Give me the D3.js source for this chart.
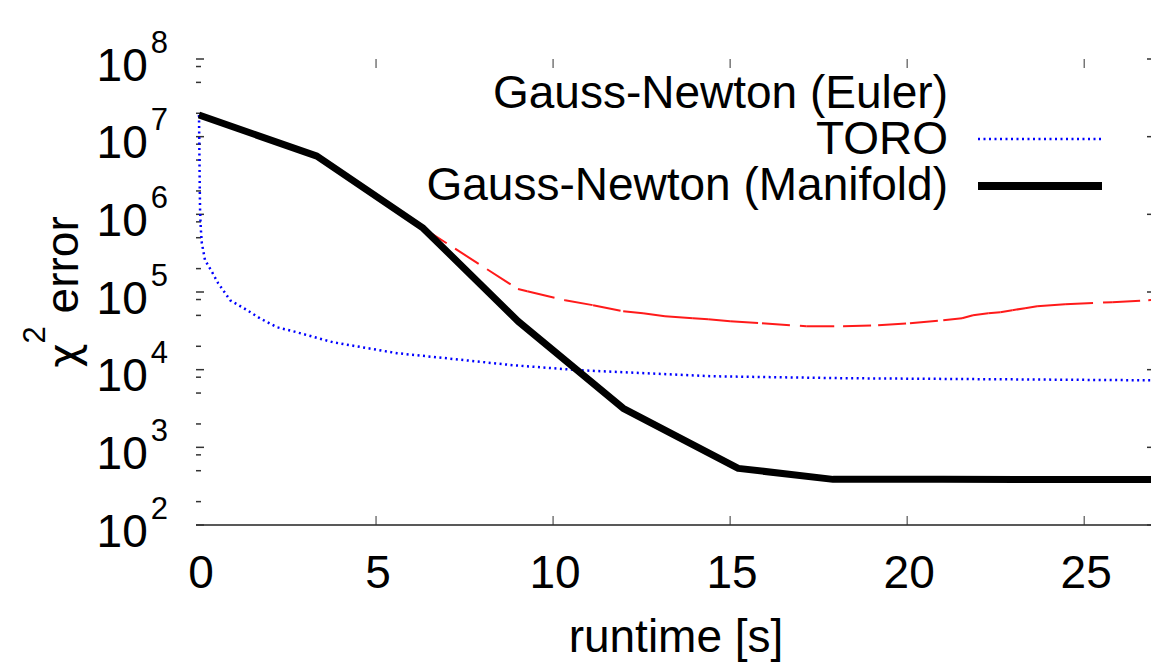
<!DOCTYPE html>
<html>
<head>
<meta charset="utf-8">
<script src="https://cdn.jsdelivr.net/npm/d3@7"></script>
<style>
  body { margin: 0; background: #fff; }
  svg { display: block; }
  text { font-family: "Liberation Sans", Arial, sans-serif; fill: #000; }
</style>
</head>
<body>
<svg></svg>
<script>
let width = 1151;
let height = 667;

// runtime [s] and chi^2 error
let manifoldTime = [0, 3.33, 6.33, 9.01, 11.98, 15.23, 17.91, 21, 24, 27];
let manifoldErr = [1.9e7, 5.62e6, 6.64e5, 4.21e4, 3.18e3, 536, 387, 387, 386, 386];

let eulerTime = [6.33, 9.01, 9.27, 10.34, 11.13, 11.98, 12.54, 13.16, 13.95, 14.38, 15.0, 15.9,
  17.15, 18.19, 19.18, 20.08, 21.02, 21.55, 21.86, 22.29, 22.63, 22.97, 23.33, 23.67, 24.46,
  25.79, 26.81, 27];
let eulerErr = [6.64e5, 1.09e5, 1.02e5, 7.84e4, 6.76e4, 5.66e4, 5.33e4, 4.88e4, 4.59e4, 4.46e4,
  4.21e4, 3.96e4, 3.62e4, 3.62e4, 3.73e4, 3.96e4, 4.33e4, 4.59e4, 5.02e4, 5.33e4, 5.5e4, 5.83e4,
  6.18e4, 6.56e4, 6.96e4, 7.39e4, 7.84e4, 7.9e4];

let toroTime = [0, 0.02, 0.03, 0.05, 0.08, 0.17, 0.37, 0.54, 0.88, 1.36, 1.72, 2.2, 2.66, 3.79,
  5.59, 7.0, 8.87, 10.76, 12.65, 14.51, 16.39, 18.37, 22.59, 27];
let toroErr = [1.9e7, 2.52e6, 1.13e6, 6.64e5, 4.26e5, 2.57e5, 1.8e5, 1.3e5, 7.84e4, 5.83e4,
  4.59e4, 3.52e4, 3.12e4, 2.25e4, 1.63e4, 1.4e4, 1.14e4, 9.83e3, 8.99e3, 8.22e3, 7.98e3,
  7.75e3, 7.52e3, 7.29e3];

let xTicks = [0, 5, 10, 15, 20, 25];
let yExponents = [2, 3, 4, 5, 6, 7, 8];
let minorFactors = [2, 5, 8];

let legendLabels = ["Gauss-Newton (Euler)", "TORO", "Gauss-Newton (Manifold)"];

let zip = (xs, ys) => xs.map((x, i) => ({ t: x, v: ys[i] }));
let manifold = zip(manifoldTime, manifoldErr);
let euler = zip(eulerTime, eulerErr);
let toro = zip(toroTime, toroErr);

let fontSize = 46;

let svg = d3.select("svg").attr("width", width).attr("height", height);

let xScale = d3.scaleLinear().domain([0, 27]).range([199, 1155]);
let yScale = d3.scaleLog().domain([1e2, 1e8]).range([525, 59]);

let line = d3.line().x((d) => xScale(d.t)).y((d) => yScale(d.v));

// bottom axis line + ticks, mirrored on top
svg.append("line")
  .attr("x1", 196).attr("x2", width)
  .attr("y1", yScale(1e2)).attr("y2", yScale(1e2))
  .attr("stroke", "#222").attr("stroke-width", 1.5);

xTicks.forEach((t) => {
  if (t > 0) {
    svg.append("line")
      .attr("x1", xScale(t)).attr("x2", xScale(t))
      .attr("y1", yScale(1e2)).attr("y2", yScale(1e2) - 9)
      .attr("stroke", "#333").attr("stroke-width", 1);
    svg.append("line")
      .attr("x1", xScale(t)).attr("x2", xScale(t))
      .attr("y1", yScale(1e8)).attr("y2", yScale(1e8) + 9)
      .attr("stroke", "#333").attr("stroke-width", 1);
  }
  svg.append("text")
    .attr("x", xScale(t) + 2)
    .attr("y", 588)
    .attr("text-anchor", "middle")
    .attr("font-size", fontSize)
    .text(t);
});

// y ticks (no axis line on the left, only ticks)
yExponents.forEach((e) => {
  let v = Math.pow(10, e);
  let y = yScale(v);
  [xScale(0) - 3, xScale(27)].forEach((x0, side) => {
    let dir = side === 0 ? 1 : -1;
    svg.append("line")
      .attr("x1", x0).attr("x2", x0 + dir * 8)
      .attr("y1", y).attr("y2", y)
      .attr("stroke", "#333").attr("stroke-width", 1.5);
  });
  if (e < 8) {
    minorFactors.forEach((f) => {
      let ym = yScale(v * f);
      svg.append("line")
        .attr("x1", xScale(0) - 3).attr("x2", xScale(0) + 2)
        .attr("y1", ym).attr("y2", ym)
        .attr("stroke", "#333").attr("stroke-width", 1.5);
    });
  }
  let lbl = svg.append("text")
    .attr("x", 168)
    .attr("y", y + 21.5)
    .attr("text-anchor", "end")
    .attr("font-size", fontSize);
  lbl.append("tspan").text("10");
  lbl.append("tspan").attr("dx", 3).attr("dy", -28).attr("font-size", 31).text(e);
});

// axis titles
svg.append("text")
  .attr("x", 676)
  .attr("y", 652)
  .attr("text-anchor", "middle")
  .attr("font-size", fontSize)
  .text("runtime [s]");

let yTitle = svg.append("text")
  .attr("transform", "translate(78,292) rotate(-90)")
  .attr("text-anchor", "middle")
  .attr("font-size", fontSize);
yTitle.append("tspan").attr("font-family", "'DejaVu Sans', sans-serif").attr("font-size", 42).text("\u03c7");
yTitle.append("tspan").attr("dy", -33).attr("font-size", 31).text("2");
yTitle.append("tspan").attr("dy", 33).text(" error");

// series
// Euler: gnuplot restarts the dash at each vertex, so draw segment by segment
svg.append("g")
  .selectAll("path")
  .data(d3.pairs(euler))
  .enter()
  .append("path")
  .attr("d", (d) => line(d))
  .attr("fill", "none")
  .attr("stroke", "#ff1a1a")
  .attr("stroke-width", 2)
  .attr("stroke-dasharray", "28,10");

svg.append("path")
  .datum(toro)
  .attr("d", line)
  .attr("fill", "none")
  .attr("stroke", "#0000ff")
  .attr("stroke-width", 2.5)
  .attr("stroke-dasharray", "2,3.5");

svg.append("path")
  .datum(manifold)
  .attr("d", line)
  .attr("fill", "none")
  .attr("stroke", "#000")
  .attr("stroke-width", 7)
  .attr("stroke-linejoin", "round");

// legend
let legendY = [108, 154, 200];
legendLabels.forEach((name, i) => {
  svg.append("text")
    .attr("x", 948)
    .attr("y", legendY[i])
    .attr("text-anchor", "end")
    .attr("font-size", fontSize)
    .text(name);
});

svg.append("line")
  .attr("x1", 978).attr("x2", 1102)
  .attr("y1", 139).attr("y2", 139)
  .attr("stroke", "#0000ff")
  .attr("stroke-width", 2.5)
  .attr("stroke-dasharray", "2,3.5");

svg.append("line")
  .attr("x1", 978).attr("x2", 1102)
  .attr("y1", 186).attr("y2", 186)
  .attr("stroke", "#000")
  .attr("stroke-width", 8);
</script>
</body>
</html>
